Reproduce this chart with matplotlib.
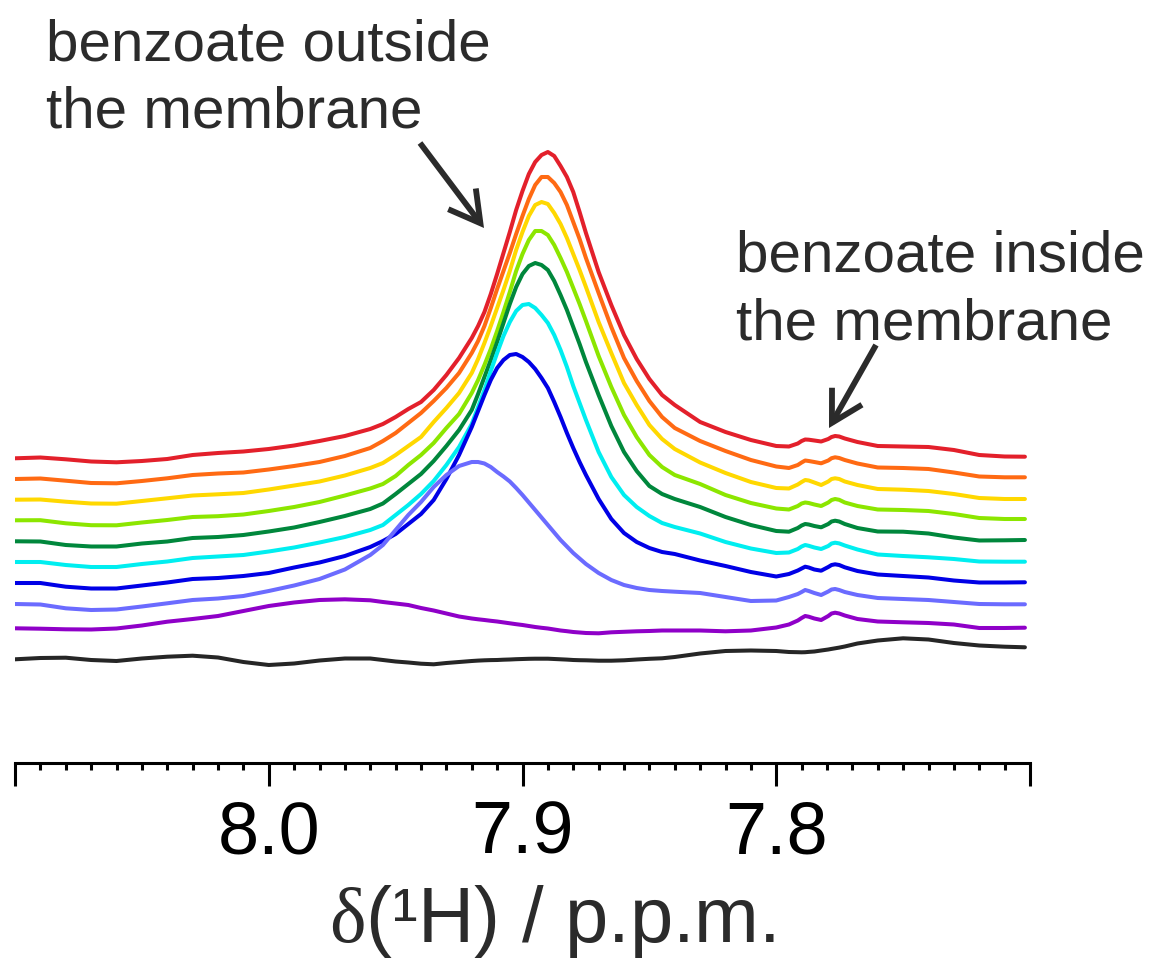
import matplotlib
matplotlib.use("Agg")
import matplotlib.pyplot as plt
from matplotlib.patches import FancyArrowPatch
from matplotlib.ticker import FixedLocator, FixedFormatter, MultipleLocator

plt.rcParams['font.family'] = ['Liberation Sans', 'DejaVu Sans']
plt.rcParams['mathtext.fontset'] = 'custom'
plt.rcParams['mathtext.rm'] = 'Liberation Serif'

# chemical shift grid (ppm)
ppm = [8.10, 8.09, 8.08, 8.07, 8.06, 8.05, 8.04, 8.03, 8.02, 8.01, 8.00, 7.99, 7.98, 7.97,
       7.96, 7.955, 7.95, 7.945, 7.94, 7.935, 7.93, 7.925,
       7.92, 7.9175, 7.915, 7.9125, 7.91, 7.9075, 7.905, 7.9025, 7.90, 7.8975, 7.895,
       7.8925, 7.89, 7.8875, 7.885, 7.8825, 7.88, 7.8775, 7.875,
       7.87, 7.865, 7.86, 7.855, 7.85, 7.845, 7.84,
       7.83, 7.82, 7.81, 7.80,
       7.795, 7.7915, 7.79, 7.7886, 7.7872, 7.785, 7.7823, 7.7795, 7.7782, 7.7768, 7.7752,
       7.773, 7.768,
       7.76, 7.75, 7.74, 7.73, 7.72, 7.71, 7.702]

# intensities (arbitrary units), one spectrum per list, top to bottom
red = [-0.3, 0.5, -1.3, -3.5, -4.3, -3, -1, 3, 5, 6.5, 9, 12.5, 17, 22,
       29, 34, 41, 49, 56, 68, 83, 100,
       120, 132, 146, 164, 184, 205, 226, 248, 267, 284, 296, 303, 306, 302, 292, 281, 266, 246, 225,
       186, 153, 123, 99, 79, 63, 53,
       36, 26, 18, 12,
       11.5, 14.5, 17, 18.5, 18.3, 17.5, 16.5, 19, 21, 22, 21.5, 19.5, 16,
       12, 11.5, 11, 8, 3, 1.5, 1.3]
orange = [0, 0.5, -1.7, -4, -4.3, -2, 0.7, 4, 5.5, 6.5, 9.5, 13, 17, 23,
          31, 38, 46, 56, 66, 78, 91, 106,
          126, 138, 153, 171, 190, 208, 226, 245, 263, 280, 294, 302, 302, 296, 287, 274, 257, 240, 221,
          186, 152, 121, 98, 78, 62, 51,
          38, 28, 19, 12.5,
          11, 14, 16.5, 18.5, 18, 17, 15.7, 18.5, 20.8, 21.7, 21, 19, 15.5,
          11.5, 11, 10, 6.5, 2.5, 1.7, 1.7]
yellow = [0.3, 0.5, -1.7, -3.5, -3.7, -1, 1.7, 4.5, 5.7, 7, 10.5, 14.5, 18.5, 24.5,
          32, 37, 45, 54, 63, 78, 92, 107,
          127, 141, 157, 174, 192, 210, 229, 250, 268, 284, 295, 298, 296, 287, 276, 262, 246, 230, 213,
          178, 147, 117, 95, 75, 61, 51,
          37.5, 27, 18, 12,
          11.5, 15.5, 18, 20, 19.5, 17.5, 15, 18.5, 21, 21.7, 21, 18.5, 15,
          11, 10.3, 9, 6, 2, 1, 1]
lime = [-0.3, -0.2, -3.3, -5.2, -5.3, -2.5, 0, 3, 3.8, 5.5, 9, 13, 18, 24.5,
        31.5, 36, 44, 55, 65, 77, 92, 106,
        127, 140, 155, 171, 189, 208, 228, 249, 266, 280, 289, 289, 285, 275, 262, 248, 232, 216, 199,
        164, 133, 105, 83, 65, 53, 45,
        36, 25, 17, 11.5,
        10.5, 14, 16.5, 17.5, 17, 15.5, 14, 17.5, 20, 21, 20.2, 17.5, 14,
        10.5, 10, 9, 6, 2, 1, 1]
green = [-0.3, -0.5, -4, -5.5, -5.5, -2.5, -0.5, 3, 4, 6, 9.5, 13.5, 19, 25,
         32, 37.5, 47, 57, 67, 80, 95, 111,
         131, 147, 164, 181, 199, 218, 237, 254, 267, 275, 278, 276, 271, 260, 246, 231, 214, 197, 179,
         146, 115, 89, 70, 55, 47, 42,
         34, 24, 16, 10,
         9.3, 13, 15.5, 17, 16.5, 15, 13.7, 17, 19.5, 20.3, 19.5, 17, 13,
         9.5, 9.3, 7.5, 3.5, 0.5, 0.7, 1]
cyan = [0, 0, -3, -5, -5, -2, 0.5, 4, 5.5, 7, 10.5, 14.5, 19.5, 25,
        32, 37, 47, 57, 68, 81, 97, 115,
        138, 155, 172, 191, 209, 226, 240, 251, 257, 258, 254, 247, 239, 227, 212, 195, 176, 159, 142,
        110, 85, 67, 55, 46, 39, 35,
        28.5, 20, 13.5, 9,
        9.5, 13, 15.5, 17, 16.2, 14.5, 13, 16, 18.5, 19.3, 18.6, 16.5, 12.5,
        7.5, 6, 4.7, 3, 0.5, 0.3, 0.3]
blue = [0, 0, -3.7, -5.5, -5.5, -2.5, 0.5, 4, 5, 7, 10, 15.5, 20.5, 27,
        36, 42, 49, 59, 69, 83, 104, 128,
        156, 172, 188, 203, 215, 223, 228, 229, 226, 221, 214, 205, 195, 181, 166, 150, 135, 121, 108,
        84, 64, 50, 41, 35, 31, 29,
        22.5, 17, 11, 6.5,
        9, 12.5, 14.5, 16.3, 15.5, 13.5, 12.3, 16, 18, 18.7, 18, 15.7, 12,
        8.5, 7, 5.5, 2.5, 0.5, 0.5, 0.7]
light_blue = [0, -0.5, -4.3, -6, -5.5, -2.5, 0.7, 4, 5.5, 8, 13, 18.5, 25, 34.5,
              49, 59, 74, 89, 102, 117, 129, 138,
              142, 142, 140.5, 137, 132, 127.5, 122.5, 116, 109, 101.5, 94, 86.5, 79, 71.5, 64,
              57.5, 51, 45.5, 40,
              31, 24, 19, 16, 14, 13, 12.3,
              11, 7, 3, 3.5,
              7, 10, 12, 14, 13, 11, 9, 12.5, 14.5, 15, 14, 12, 9,
              6, 5, 4, 2, 0, -0.3, -0.3]
purple = [-0.3, -0.7, -1.3, -1.5, -0.5, 2.5, 6.3, 9, 12, 17, 22, 25.5, 28, 28.7,
          27.7, 26, 24.5, 23, 20, 17.5, 14.5, 11.5,
          9.5, 8.7, 8, 7.2, 6.5, 5.6, 4.7, 3.8, 3, 2, 1, 0.2, -0.5, -1.5, -2.5, -3.2, -4, -4.5, -5,
          -5.3, -4.3, -3.8, -3.3, -3, -2.5, -2.5,
          -2.5, -3.3, -2.5, 0.5,
          3.5, 7.5, 10, 12, 11.3, 9.5, 8, 12, 14.5, 15.3, 14.5, 12.5, 9,
          6.5, 5.7, 5, 3.5, 0, 0, 0.3]
black = [-0.3, 1, 1.3, -1, -2, 0.5, 2.3, 3.3, 1.5, -3, -6, -4.5, -1.5, 0.5,
         0.5, -1, -2.5, -3.5, -4.7, -5.3, -4, -3,
         -2, -1.6, -1.3, -1.1, -1, -0.7, -0.5, -0.2, 0, 0.2, 0.3, 0.3, 0.3, 0, -0.3, -0.6, -1, -1.2, -1.3,
         -1.7, -1.7, -1.3, -0.5, 0.2, 0.7, 2,
         5.5, 8, 8.5, 8,
         7, 6.8, 6.7, 6.8, 7.1, 7.5, 8.5, 9.5, 10.1, 10.7, 11.4, 12.5, 15.5,
         18.5, 20.7, 19.5, 16, 13.5, 12.3, 11.7]

spectra = [red, orange, yellow, lime, green, cyan, blue, light_blue, purple, black]
stack_offsets = [305, 284, 263, 243, 222, 201, 180, 159, 135, 104]
colors = ['#e3202b', '#ff6a13', '#ffd800', '#8ce600', '#00873c', '#00eef0',
          '#0000e6', '#6b6bff', '#8f00c8', '#262626']

major_ticks = [8.10, 8.00, 7.90, 7.80, 7.70]
major_labels = ['', '8.0', '7.9', '7.8', '']

for s in spectra:
    assert len(s) == len(ppm)

W, H = 1154, 958
fig = plt.figure(figsize=(W / 100, H / 100), dpi=100)
ax = fig.add_axes([15 / W, (H - 763) / H, 1015 / W, 763 / H])
ax.set_xlim(8.10, 7.70)
ax.set_ylim(0, 763)

for spec, off, col in zip(spectra, stack_offsets, colors):
    ax.plot(ppm, [off + v for v in spec], color=col, lw=2.9,
            solid_joinstyle='round', solid_capstyle='round')

for s in ['top', 'left', 'right']:
    ax.spines[s].set_visible(False)
ax.spines['bottom'].set_linewidth(2.2)
ax.set_yticks([])
ax.xaxis.set_major_locator(FixedLocator(major_ticks))
ax.xaxis.set_major_formatter(FixedFormatter(major_labels))
ax.xaxis.set_minor_locator(MultipleLocator(0.01))
ax.tick_params(axis='x', which='major', direction='out', length=16.5, width=2.2,
               labelsize=53, pad=10, colors='black')
ax.tick_params(axis='x', which='minor', direction='out', length=5, width=2.2)
ax.patch.set_visible(False)

txt_col = '#2b2b2b'
fig.text(46 / W, 1 - 128 / H, 'benzoate outside\nthe membrane', fontsize=42,
         color=txt_col, ha='left', va='baseline', linespacing=1.32)
fig.text(736 / W, 1 - 340 / H, 'benzoate inside\nthe membrane', fontsize=42,
         color=txt_col, ha='left', va='baseline', linespacing=1.35)
fig.text(552 / W, 16 / H, r'$\mathrm{\delta}$(¹H) / p.p.m.', fontsize=56,
         color=txt_col, ha='center', va='baseline')

arrow_style = dict(arrowstyle='->,head_length=1.1,head_width=0.62', lw=4.2,
                   color=txt_col, mutation_scale=20, shrinkA=0, shrinkB=0,
                   joinstyle='miter', capstyle='butt')
fig.add_artist(FancyArrowPatch((420, H - 143), (484, H - 228), transform=None, **arrow_style))
fig.add_artist(FancyArrowPatch((876, H - 345), (829, H - 428), transform=None, **arrow_style))

fig.savefig('out.png', dpi=100)
